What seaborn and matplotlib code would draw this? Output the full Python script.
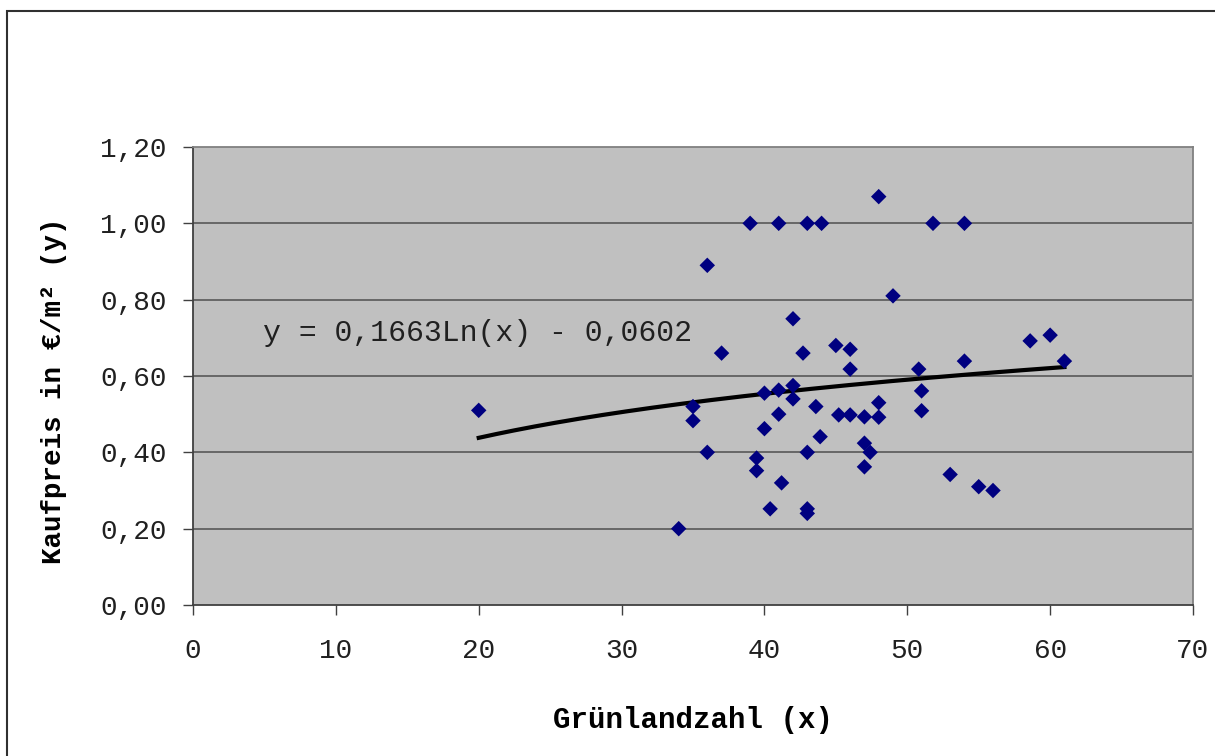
"""
Kaufpreis vs. Gruenlandzahl scatter with logarithmic trend line
"""
import numpy as np
import pandas as pd
import matplotlib
matplotlib.use("Agg")
import matplotlib.pyplot as plt
from matplotlib.patches import Rectangle
import seaborn as sns

# data
gruenlandzahl = [20, 34, 35, 35, 36, 36, 37, 39, 41, 43, 44, 48, 51.8, 54,
                 49, 42, 42.7, 45, 46, 46, 50.8, 51, 51, 40, 41, 42, 42, 40,
                 41, 39.45, 39.45, 41.2, 40.4, 43, 43, 43, 43.6, 43.9, 45.2,
                 46, 47, 48, 48, 47, 47.4, 47, 53, 58.6, 60, 61, 54, 55, 56]
kaufpreis = [0.51, 0.20, 0.52, 0.483, 0.40, 0.89, 0.66, 1.00, 1.00, 1.00,
             1.00, 1.07, 1.00, 1.00, 0.81, 0.75, 0.66, 0.68, 0.67, 0.618,
             0.618, 0.561, 0.509, 0.555, 0.563, 0.575, 0.54, 0.462, 0.50,
             0.385, 0.352, 0.32, 0.252, 0.252, 0.24, 0.40, 0.52, 0.441,
             0.498, 0.498, 0.493, 0.53, 0.492, 0.424, 0.40, 0.362, 0.342,
             0.692, 0.707, 0.639, 0.639, 0.31, 0.30]

# trend line as given in the chart: y = 0,1663 Ln(x) - 0,0602
trend_a = 0.1663
trend_b = -0.0602
trend_range = [20, 61]
trend_label = "y = 0,1663Ln(x) - 0,0602"

x_ticks = [0, 10, 20, 30, 40, 50, 60, 70]
y_ticks = [0.0, 0.2, 0.4, 0.6, 0.8, 1.0, 1.2]
y_ticklabels = ["0,00", "0,20", "0,40", "0,60", "0,80", "1,00", "1,20"]

df = pd.DataFrame({"x": gruenlandzahl, "y": kaufpreis})

mono = ["Liberation Mono", "DejaVu Sans Mono"]
plt.rcParams['font.family'] = mono

fig = plt.figure(figsize=(12.15, 7.56), dpi=100)
ax = fig.add_axes([193 / 1215, 1 - 605 / 756, 1000 / 1215, 458 / 756])
ax.set_facecolor("#C0C0C0")

# horizontal grid lines
for yv in y_ticks[1:-1]:
    ax.axhline(yv, color="#606060", linewidth=1.3, zorder=1)

sns.scatterplot(data=df, x="x", y="y", marker="D", s=62, color="#000080",
                edgecolor="none", ax=ax, zorder=3)

# trend line
tx = np.linspace(trend_range[0], trend_range[1], 200)
ty = trend_a * np.log(tx) + trend_b
ax.plot(tx, ty, color="black", linewidth=3, zorder=2)

ax.text(4.9, 0.713, trend_label, fontsize=21.5, color="#202020",
        ha="left", va="center")

ax.set_xlim(0, 70)
ax.set_ylim(0, 1.2)
ax.set_xticks(x_ticks)
ax.set_xticklabels([str(v) for v in x_ticks])
ax.set_yticks(y_ticks)
ax.set_yticklabels(y_ticklabels)
ax.tick_params(axis="both", direction="out", length=7, width=1,
               color="#404040", labelsize=20, labelcolor="#202020")
ax.tick_params(axis="x", pad=17)
ax.tick_params(axis="y", pad=12)

for side in ["left", "bottom"]:
    ax.spines[side].set_color("#404040")
    ax.spines[side].set_linewidth(1.3)
for side in ["right", "top"]:
    ax.spines[side].set_color("#808080")
    ax.spines[side].set_linewidth(1.3)

ax.set_xlabel("Grünlandzahl (x)", fontsize=21, fontweight="bold", labelpad=30)
ax.set_ylabel("Kaufpreis in €/m² (y)", fontsize=19.8, fontweight="bold")
ax.yaxis.set_label_coords(-0.126, 0.467)

# outer chart border
top = 1 - 11 / 756
fig.patches.append(Rectangle((7 / 1215, -0.05), 1.05, top + 0.05,
                             transform=fig.transFigure, fill=False,
                             edgecolor="#303030", linewidth=1.5))

fig.savefig("out.png", dpi=100)
